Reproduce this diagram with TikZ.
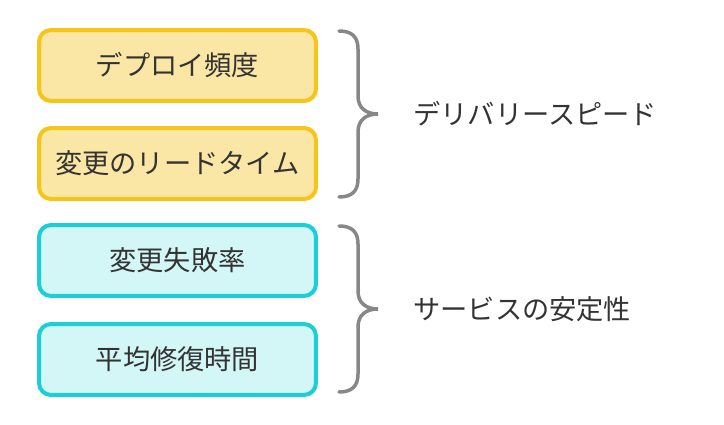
\documentclass[tikz,border=0pt]{standalone}
\usepackage{fontspec}
\newfontfamily\jpfont{Noto Sans CJK JP}
\definecolor{deliveryfill}{HTML}{FAE7A6}
\definecolor{deliverydraw}{HTML}{F5C518}
\definecolor{stablefill}{HTML}{D3F6F7}
\definecolor{stabledraw}{HTML}{1CCFD6}
\definecolor{bracegray}{HTML}{878787}
\definecolor{textgray}{HTML}{333333}
\tikzset{
  metric/.style={rounded corners=0.24cm,line width=0.08cm,minimum width=5.54cm,
    minimum height=1.42cm,inner sep=0pt,text=textgray,font=\jpfont\fontsize{15.5}{18}\selectfont},
  delivery/.style={metric,fill=deliveryfill,draw=deliverydraw},
  stable/.style={metric,fill=stablefill,draw=stabledraw},
  group/.style={anchor=west,inner sep=0pt,text=textgray,font=\jpfont\fontsize{15.5}{18}\selectfont},
  pics/curly/.style={code={
    \draw[bracegray,line width=0.07cm,line cap=round]
      (0,0) .. controls +(13,0) and +(0,-12) .. ++(19,18) -- ++(0,#1)
      .. controls +(0,12) and +(-12,0) .. ++(20,18)
      .. controls +(-12,0) and +(0,-12) .. ++(-20,18) -- ++(0,#1)
      .. controls +(0,12) and +(13,0) .. ++(-19,18);
  }}
}
\begin{document}
\begin{tikzpicture}[x=0.02cm,y=-0.02cm]
  \useasboundingbox (0,0) rectangle (724,425);

  % The four metrics
  \node[delivery] (deploy) at (177.5,65.5) {デプロイ頻度};
  \node[delivery] (lead) at (177.5,163.5) {変更のリードタイム};
  \node[stable] (fail) at (177.5,260.5) {変更失敗率};
  \node[stable] (restore) at (177.5,359.5) {平均修復時間};

  % Braces and group labels
  \pic at (339,31) {curly=47};
  \pic at (339,226) {curly=47};
  \node[group] (speed) at (413,114) {デリバリースピード};
  \node[group] (stability) at (413,309) {サービスの安定性};
\end{tikzpicture}
\end{document}
